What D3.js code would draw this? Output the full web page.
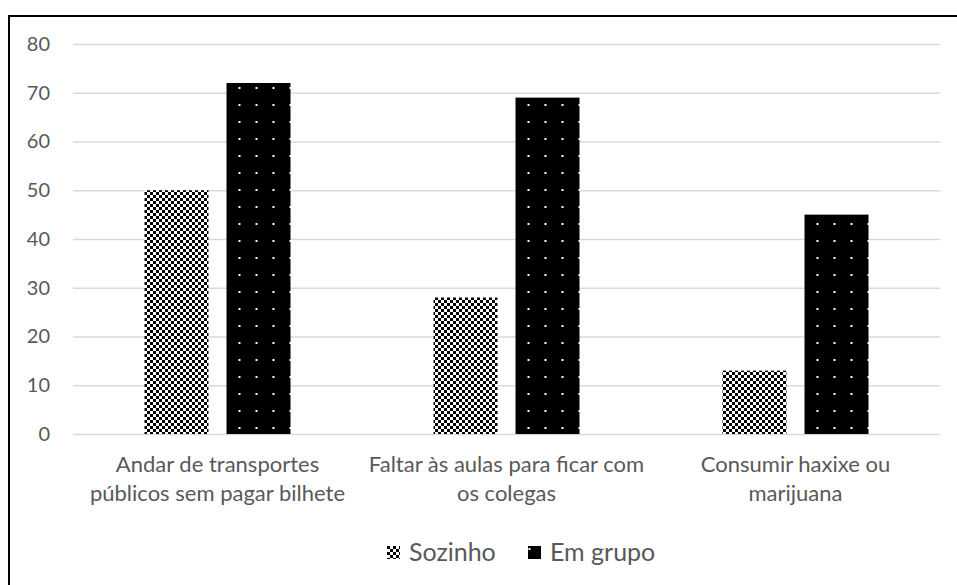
<!DOCTYPE html>
<html>
<head>
<meta charset="utf-8">
<style>
  body { margin: 0; background: #fff; }
  svg { display: block; font-family: Lato, "Open Sans", sans-serif; }
</style>
</head>
<body>
<div id="container"></div>
<script src="https://d3js.org/d3.v7.js"></script>
<script>
// chart data
const categories = [
  ["Andar de transportes", "públicos sem pagar bilhete"],
  ["Faltar às aulas para ficar com", "os colegas"],
  ["Consumir haxixe ou", "marijuana"]
];
const seriesNames = ["Sozinho", "Em grupo"];
const sozinho = [50, 28, 13];
const emGrupo = [72, 69, 45];
const yTicks = [0, 10, 20, 30, 40, 50, 60, 70, 80];

const width = 957, height = 585;
const marginTop = 44, marginBottom = 151, marginLeft = 73, marginRight = 17;
const textColor = "#595959";

const svg = d3.select("#container").append("svg")
    .attr("width", width)
    .attr("height", height);

// patterns
const defs = svg.append("defs");
const checker = defs.append("pattern")
    .attr("id", "checker")
    .attr("patternUnits", "userSpaceOnUse")
    .attr("width", 6).attr("height", 6);
checker.append("rect").attr("width", 6).attr("height", 6).attr("fill", "#fff");
checker.append("rect").attr("x", 0).attr("y", 0).attr("width", 3).attr("height", 3).attr("fill", "#000");
checker.append("rect").attr("x", 3).attr("y", 3).attr("width", 3).attr("height", 3).attr("fill", "#000");

const dots = defs.append("pattern")
    .attr("id", "dots")
    .attr("patternUnits", "userSpaceOnUse")
    .attr("width", 17).attr("height", 17);
dots.append("rect").attr("width", 17).attr("height", 17).attr("fill", "#000");
dots.append("rect").attr("x", 0.5).attr("y", 2).attr("width", 2).attr("height", 2).attr("fill", "#fff");

const fills = ["url(#checker)", "url(#dots)"];

// scales
const x0 = d3.scaleBand()
    .domain(d3.range(categories.length))
    .range([marginLeft, width - marginRight]);

const groupW = 146;
const x1 = d3.scaleBand()
    .domain(seriesNames)
    .range([0, groupW])
    .paddingInner(0.22);

const y = d3.scaleLinear()
    .domain([0, 80])
    .range([height - marginBottom, marginTop]);

// gridlines and y labels
svg.append("g")
    .attr("transform", `translate(${marginLeft},0)`)
    .call(d3.axisLeft(y).tickValues(yTicks).tickSize(0).tickPadding(23))
    .call(g => g.select(".domain").remove())
    .call(g => g.selectAll(".tick line").clone()
        .attr("x2", width - marginLeft - marginRight)
        .attr("stroke", "#d9d9d9")
        .attr("stroke-width", 1.5))
    .call(g => g.selectAll(".tick text")
        .attr("fill", textColor)
        .attr("font-size", 20)
        .attr("font-family", "Lato, sans-serif"));

// bars
const rows = seriesNames.map((s, si) => ({ name: s, values: si === 0 ? sozinho : emGrupo, fill: fills[si] }));

svg.append("g")
  .selectAll("g")
  .data(rows)
  .join("g")
    .attr("fill", d => d.fill)
  .selectAll("rect")
  .data(d => d.values.map((v, i) => ({ s: d.name, i, v })))
  .join("rect")
    .attr("x", d => x0(d.i) + (x0.bandwidth() - groupW) / 2 + x1(d.s))
    .attr("y", d => y(d.v))
    .attr("width", x1.bandwidth())
    .attr("height", d => y(0) - y(d.v));

// category labels
const catG = svg.append("g")
    .attr("fill", textColor)
    .attr("font-size", 22)
    .attr("text-anchor", "middle");

catG.selectAll("text")
  .data(categories)
  .join("text")
    .attr("x", (d, i) => x0(i) + x0.bandwidth() / 2)
    .attr("y", 472)
  .selectAll("tspan")
  .data(d => d)
  .join("tspan")
    .attr("x", function () { return d3.select(this.parentNode).attr("x"); })
    .attr("dy", (d, i) => i ? 29 : 0)
    .text(d => d);

// legend
const legendX = [387, 528];
const legend = svg.append("g")
  .selectAll("g")
  .data(rows)
  .join("g")
    .attr("transform", (d, i) => `translate(${legendX[i]},546)`);

legend.append("rect")
    .attr("width", 13).attr("height", 13)
    .attr("fill", d => d.fill);

legend.append("text")
    .attr("x", 22)
    .attr("y", 15)
    .attr("fill", textColor)
    .attr("font-size", 25)
    .text(d => d.name);

// outer frame
svg.append("rect")
    .attr("x", 9).attr("y", 16)
    .attr("width", 960).attr("height", 600)
    .attr("fill", "none")
    .attr("stroke", "#000")
    .attr("stroke-width", 2);
</script>
</body>
</html>
